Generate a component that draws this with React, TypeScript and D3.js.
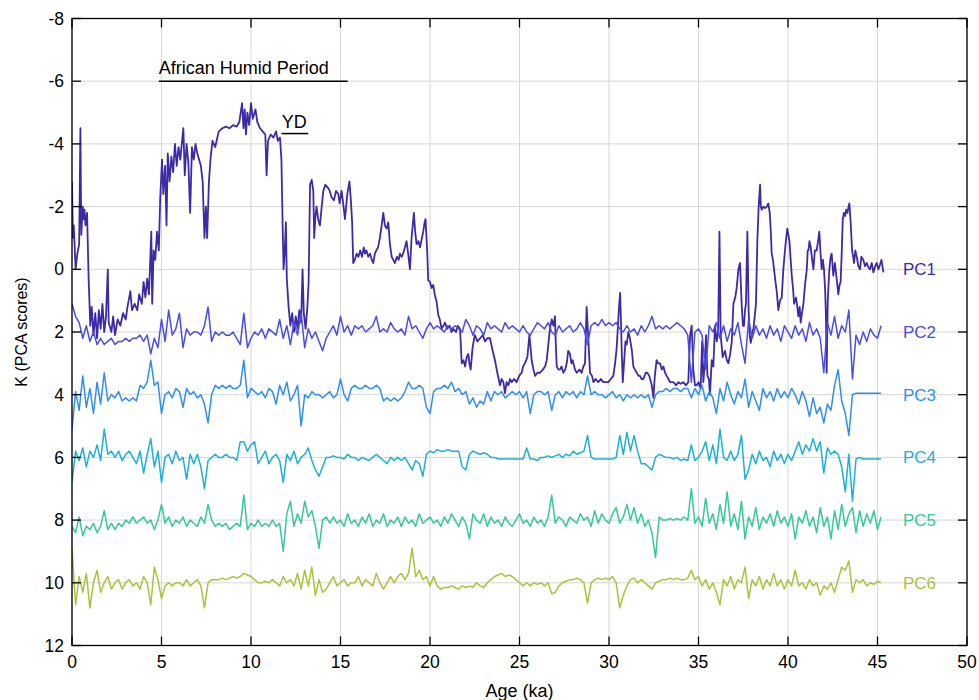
import React from 'react';
import * as d3 from 'd3';

// sampling interval (ka) of the regularly spaced PC2..PC6 records
const ageStep = 0.2;

// PC1 is read as [age, score] pairs because of its abrupt steps and spikes
const pc1: [number, number][] = [
  [0, -2.8], [0.05, -1.0], [0.1, -1.4], [0.2, 0.0], [0.3, -0.5], [0.4, -0.8], [0.47, -4.5], [0.52, -1.1], [0.6, -2.0], [0.65, -1.6], [0.7, -1.9], [0.75, -1.4], [0.84, -1.8], [0.93, 0.3], [1.02, 1.8], [1.1, 1.2], [1.2, 2.1], [1.3, 1.4], [1.4, 2.2], [1.5, 1.3], [1.6, 1.9], [1.7, 1.1], [1.8, 2.0], [1.9, 1.5], [2.0, 0.0], [2.05, 1.7],
  [2.2, 2.0], [2.3, 1.5], [2.4, 2.1], [2.55, 1.6], [2.7, 1.8], [2.85, 1.4], [3.0, 1.6], [3.1, 1.2], [3.26, 0.7], [3.35, 1.3], [3.5, 1.1], [3.65, 1.3], [3.75, 0.8], [3.9, 1.1], [4.0, 0.4], [4.1, 0.9], [4.2, 0.3], [4.3, 0.8], [4.43, -1.2], [4.48, 1.1], [4.56, -0.6], [4.65, -0.3], [4.75, -1.2], [4.85, -0.6], [4.93, -2.3],
  [5.03, -3.5], [5.1, -2.4], [5.2, -3.3], [5.28, -1.4], [5.35, -3.7], [5.45, -2.8], [5.55, -3.6], [5.65, -3.1], [5.75, -4.0], [5.85, -3.3], [5.95, -3.9], [6.05, -3.5], [6.15, -4.1], [6.22, -4.5], [6.3, -3.0], [6.4, -4.0], [6.5, -3.4], [6.6, -1.8], [6.7, -3.9], [6.8, -3.5], [6.9, -4.0], [7.0, -3.7], [7.1, -3.5], [7.2, -3.3], [7.3, -2.8],
  [7.4, -1.0], [7.48, -2.0], [7.55, -1.0], [7.65, -2.8], [7.75, -3.6], [7.85, -4.1], [8.0, -3.9], [8.2, -4.4], [8.4, -4.5], [8.6, -4.55], [8.8, -4.5], [9.0, -4.6], [9.2, -4.55], [9.35, -4.7], [9.5, -5.3], [9.58, -4.5], [9.65, -5.1], [9.72, -4.3], [9.8, -5.0], [9.9, -4.6], [10.0, -5.3], [10.1, -4.8], [10.25, -5.1], [10.35, -4.7], [10.5, -4.5],
  [10.65, -4.4], [10.8, -4.3], [10.87, -3.0], [10.95, -4.1], [11.1, -4.3], [11.25, -4.2], [11.4, -4.4], [11.5, -4.1], [11.62, -4.2], [11.7, -3.5], [11.77, -1.3], [11.82, 0.0], [11.88, -0.5], [11.95, -1.5], [12.0, 0.3], [12.1, 1.2], [12.2, 1.8], [12.3, 1.4], [12.4, 2.0], [12.5, 1.5], [12.6, 1.9], [12.7, 1.3], [12.8, 1.7], [12.88, 0.0], [12.95, 1.4],
  [13.05, 1.9], [13.15, 1.2], [13.22, 0.4], [13.3, -2.7], [13.39, -2.85], [13.48, -2.5], [13.53, -1.0], [13.6, -1.7], [13.66, -2.0], [13.75, -1.6], [13.85, -1.4], [13.95, -2.0], [14.04, -2.5], [14.15, -2.7], [14.3, -2.6], [14.4, -2.5], [14.5, -2.3], [14.63, -2.2], [14.75, -2.5], [14.88, -2.4], [14.95, -2.1], [15.06, -2.5], [15.15, -2.1], [15.25, -1.6], [15.38, -2.4],
  [15.5, -2.8], [15.58, -2.2], [15.65, -1.5], [15.71, -0.2], [15.8, -0.3], [15.9, -0.5], [16.0, -0.4], [16.1, -0.6], [16.2, -0.4], [16.3, -0.7], [16.37, -0.5], [16.45, -0.6], [16.55, -0.4], [16.65, -0.5], [16.75, -0.3], [16.83, -0.2], [16.92, -0.5], [17.0, -0.6], [17.1, -0.7], [17.2, -1.0], [17.3, -1.4], [17.39, -1.8], [17.48, -1.4], [17.58, -1.3], [17.67, -1.5],
  [17.76, -0.8], [17.86, -0.4], [17.95, -0.3], [18.04, -0.2], [18.15, -0.4], [18.25, -0.3], [18.32, -0.5], [18.42, -0.4], [18.5, -0.5], [18.6, -0.7], [18.69, -0.9], [18.78, -0.5], [18.88, 0.0], [18.97, -1.0], [19.1, -1.8], [19.17, -1.2], [19.25, -0.8], [19.35, -0.9], [19.44, -0.7], [19.55, -1.0], [19.62, -1.2], [19.7, -1.5], [19.75, -1.6], [19.85, -0.5], [19.9, 0.35],
  [20.0, 0.4], [20.09, 0.6], [20.18, 0.5], [20.28, 0.85], [20.36, 1.0], [20.46, 1.45], [20.55, 1.6], [20.65, 1.9], [20.75, 1.8], [20.84, 1.7], [20.95, 1.9], [21.1, 1.8], [21.2, 2.0], [21.3, 1.9], [21.45, 2.0], [21.55, 1.8], [21.68, 1.9], [21.77, 3.0], [21.87, 2.9], [21.96, 3.1], [22.05, 2.8], [22.14, 2.7], [22.2, 3.0], [22.27, 3.2], [22.38, 2.5],
  [22.5, 2.1], [22.65, 2.3], [22.8, 2.2], [22.95, 2.1], [23.07, 2.3], [23.2, 2.2], [23.35, 2.2], [23.5, 2.6], [23.63, 2.9], [23.76, 3.3], [23.91, 3.7], [24.0, 3.5], [24.1, 3.6], [24.19, 3.95], [24.28, 3.6], [24.38, 3.7], [24.47, 3.5], [24.56, 3.6], [24.7, 3.5], [24.84, 3.6], [24.98, 3.4], [25.12, 3.3], [25.2, 3.1], [25.3, 3.0], [25.44, 2.8],
  [25.55, 2.1], [25.62, 2.5], [25.68, 2.9], [25.78, 3.2], [25.87, 3.4], [26.0, 3.3], [26.15, 3.3], [26.3, 3.2], [26.43, 3.1], [26.52, 2.9], [26.61, 2.4], [26.7, 1.9], [26.8, 1.6], [26.9, 1.8], [26.98, 1.5], [27.03, 2.4], [27.08, 3.1], [27.18, 3.2], [27.26, 3.2], [27.35, 3.1], [27.45, 3.3], [27.55, 3.2], [27.64, 3.0], [27.72, 2.6], [27.82, 2.7],
  [27.9, 3.0], [27.97, 2.9], [28.1, 3.2], [28.2, 3.3], [28.35, 3.2], [28.47, 3.3], [28.57, 3.1], [28.66, 3.0], [28.75, 1.2], [28.85, 2.3], [28.94, 3.3], [29.05, 3.4], [29.13, 3.6], [29.25, 3.5], [29.4, 3.6], [29.55, 3.5], [29.68, 3.6], [29.8, 3.6], [29.96, 3.6], [30.1, 3.5], [30.24, 3.4], [30.34, 3.0], [30.43, 2.5], [30.55, 1.3], [30.62, 0.75],
  [30.67, 1.7], [30.71, 2.6], [30.77, 3.6], [30.85, 2.9], [30.92, 2.3], [30.99, 2.4], [31.08, 2.0], [31.17, 2.2], [31.28, 2.6], [31.36, 3.1], [31.45, 3.2], [31.55, 3.3], [31.65, 3.4], [31.73, 3.4], [31.82, 3.5], [31.92, 3.5], [32.05, 3.3], [32.14, 3.3], [32.25, 3.4], [32.39, 3.7], [32.48, 4.1], [32.56, 3.4], [32.66, 2.9], [32.75, 3.0], [32.85, 3.0],
  [32.95, 3.2], [33.04, 3.1], [33.13, 3.3], [33.22, 3.4], [33.32, 3.5], [33.41, 3.6], [33.5, 3.6], [33.6, 3.6], [33.75, 3.7], [33.88, 3.6], [34.0, 3.65], [34.15, 3.6], [34.3, 3.7], [34.43, 3.6], [34.53, 2.1], [34.62, 1.8], [34.71, 3.2], [34.8, 3.7], [34.9, 3.7], [35.0, 3.6], [35.12, 3.8], [35.2, 2.3], [35.27, 3.6], [35.35, 3.0], [35.42, 2.1],
  [35.5, 3.4], [35.58, 3.5], [35.64, 4.0], [35.74, 2.9], [35.83, 3.1], [35.92, 1.8], [36.02, 2.3], [36.1, 2.0], [36.17, -1.2], [36.24, 2.1], [36.35, 2.8], [36.48, 2.6], [36.58, 2.9], [36.67, 3.0], [36.77, 2.7], [36.86, 2.3], [36.95, 1.1], [37.05, 0.9], [37.13, 0.6], [37.23, 0.0], [37.32, -0.2], [37.41, 1.1], [37.48, 1.8], [37.54, 1.8], [37.6, 1.3],
  [37.65, 1.1], [37.73, -1.2], [37.8, 1.3], [37.86, 2.1], [37.92, 2.35], [38.0, 2.0], [38.07, 1.9], [38.14, 1.5], [38.21, 1.1], [38.29, -0.96], [38.36, -2.0], [38.44, -2.7], [38.48, -2.0], [38.53, -1.9], [38.62, -2.0], [38.72, -1.95], [38.82, -2.0], [38.9, -2.1], [38.98, -1.8], [39.04, -1.2], [39.09, -0.5], [39.16, -0.3], [39.22, 0.0], [39.3, 0.4], [39.37, 0.7],
  [39.46, 1.3], [39.55, 1.0], [39.65, 0.9], [39.74, 0.0], [39.83, -0.6], [39.9, -1.0], [39.96, -1.3], [40.02, -1.1], [40.08, -0.9], [40.15, -0.3], [40.21, 0.2], [40.28, 0.6], [40.34, 1.1], [40.45, 0.9], [40.52, 1.2], [40.58, 1.5], [40.65, 1.2], [40.71, 1.7], [40.78, 1.4], [40.86, 1.1], [40.95, 0.5], [41.05, 0.0], [41.1, -0.6], [41.14, -0.6], [41.2, -0.9],
  [41.27, -0.7], [41.35, -0.3], [41.42, 0.0], [41.5, -0.6], [41.6, -0.6], [41.68, -0.9], [41.75, -1.2], [41.82, -0.5], [41.88, 0.0], [41.95, -0.3], [42.01, 0.0], [42.07, 0.6], [42.12, 1.5], [42.16, 3.3], [42.22, 1.0], [42.31, 0.0], [42.38, -0.4], [42.44, -0.5], [42.53, 0.2], [42.62, -0.2], [42.72, 0.3], [42.81, 0.8], [42.88, 0.5], [42.94, 0.4], [43.0, -0.5],
  [43.06, -1.6], [43.12, -1.8], [43.19, -1.7], [43.25, -1.9], [43.32, -1.8], [43.38, -2.0], [43.43, -2.1], [43.5, -1.5], [43.58, -0.6], [43.64, -0.4], [43.69, -0.2], [43.76, -0.6], [43.84, -0.4], [43.93, -0.1], [44.02, 0.0], [44.1, -0.4], [44.21, -0.3], [44.3, -0.1], [44.4, -0.2], [44.5, -0.05], [44.58, 0.0], [44.68, -0.2], [44.77, 0.1], [44.87, -0.1], [44.96, -0.2],
  [45.05, 0.0], [45.14, -0.15], [45.22, -0.3], [45.33, 0.1],
];

// PC2..PC6: one value every ageStep ka from 0 ka (25 values per 5 ka row)
const pc2 = [
  1.1, 1.5, 1.7, 2.2, 1.8, 2.3, 2.0, 2.4, 2.2, 2.4, 2.3, 2.2, 2.4, 2.3, 2.3, 2.2, 2.3, 2.2, 2.2, 2.1, 2.3, 2.1, 2.7, 2.2, 2.5,
  1.6, 2.3, 1.3, 2.1, 1.9, 1.4, 2.5, 1.9, 2.1, 2.0, 2.0, 2.1, 1.8, 1.2, 2.3, 2.0, 2.1, 2.0, 2.1, 2.1, 2.0, 2.2, 2.4, 1.4, 2.5,
  2.2, 2.0, 2.1, 1.9, 2.2, 1.9, 2.0, 2.1, 1.6, 2.2, 1.8, 2.4, 1.7, 2.1, 1.4, 2.5, 1.9, 2.2, 2.0, 2.3, 2.6, 2.2, 2.0, 1.8, 2.1,
  1.5, 2.0, 1.8, 2.1, 1.8, 1.9, 1.8, 2.0, 1.9, 1.8, 1.5, 2.0, 1.9, 2.0, 1.7, 1.9, 2.0, 1.9, 2.1, 1.5, 1.9, 1.8, 2.0, 2.2, 1.9,
  1.7, 1.9, 1.8, 1.9, 2.0, 1.8, 1.9, 1.8, 1.9, 2.0, 1.6, 1.8, 2.1, 1.8, 1.9, 2.1, 1.7, 1.9, 1.8, 1.9, 2.0, 1.7, 1.9, 1.8, 1.9,
  2.0, 1.8, 2.0, 2.1, 1.9, 1.7, 1.8, 1.9, 1.7, 2.0, 2.1, 1.8, 2.0, 1.9, 1.8, 2.0, 1.9, 1.7, 1.9, 2.4, 1.8, 1.7, 1.8, 1.6, 1.8,
  1.7, 1.8, 1.7, 1.9, 2.0, 1.8, 2.0, 1.9, 2.1, 1.8, 2.0, 1.8, 1.5, 1.9, 1.8, 1.9, 1.8, 1.9, 1.8, 1.7, 1.8, 1.9, 2.1, 3.6, 2.0,
  1.9, 2.1, 3.2, 1.8, 2.0, 1.7, 2.2, 1.8, 2.3, 1.9, 2.1, 1.7, 2.4, 3.0, 1.6, 2.2, 1.8, 2.1, 1.9, 2.2, 1.8, 2.1, 1.9, 2.3, 1.8,
  2.0, 2.2, 1.8, 2.1, 1.9, 2.3, 1.7, 2.1, 1.9, 2.2, 3.3, 1.7, 2.1, 1.5, 2.2, 1.8, 2.0, 1.3, 3.5, 2.1, 2.4, 2.0, 2.3, 1.9, 2.1, 2.2, 1.8,
];

const pc3 = [
  5.1, 3.9, 4.5, 3.4, 4.4, 3.8, 4.6, 3.6, 4.3, 3.3, 4.2, 4.0, 4.1, 3.9, 4.2, 4.1, 4.2, 4.1, 4.2, 3.7, 3.8, 3.6, 2.9, 3.7, 3.6,
  4.6, 4.0, 3.9, 4.1, 3.8, 3.9, 4.4, 3.8, 4.0, 3.9, 4.1, 4.0, 4.3, 4.9, 4.0, 3.7, 3.8, 3.7, 3.8, 3.7, 3.8, 3.8, 3.7, 2.9, 4.1,
  3.8, 3.9, 4.0, 3.9, 4.1, 3.8, 3.9, 4.3, 3.7, 4.0, 3.6, 4.2, 4.0, 3.7, 5.0, 4.0, 4.1, 3.9, 4.0, 4.0, 4.1, 4.0, 3.9, 4.1, 4.0,
  3.5, 4.0, 4.2, 3.8, 3.7, 3.8, 3.8, 3.7, 3.8, 3.8, 3.7, 3.8, 4.2, 4.1, 4.2, 4.1, 4.2, 4.1, 3.9, 3.6, 3.8, 3.8, 3.7, 3.8, 4.4,
  4.6, 3.9, 3.8, 3.8, 3.7, 3.8, 3.6, 3.9, 3.8, 4.0, 3.9, 4.3, 4.1, 4.4, 4.2, 4.3, 3.9, 4.2, 3.9, 4.0, 3.9, 4.1, 4.0, 3.9, 4.0,
  3.9, 4.1, 3.9, 4.6, 4.0, 3.9, 3.9, 4.0, 3.9, 4.5, 4.0, 3.9, 4.1, 3.9, 4.0, 3.9, 4.1, 3.9, 4.0, 3.4, 4.0, 3.9, 4.0, 4.0, 4.1,
  4.0, 3.9, 4.1, 4.0, 4.2, 4.0, 4.1, 4.0, 4.1, 4.0, 4.1, 4.0, 4.4, 4.0, 3.9, 3.9, 3.8, 3.9, 3.8, 3.8, 3.9, 3.8, 3.8, 4.1, 3.8,
  4.0, 3.7, 4.2, 3.9, 4.1, 4.6, 3.8, 4.2, 3.6, 4.0, 4.3, 3.9, 4.1, 3.5, 4.4, 3.9, 4.2, 4.5, 3.8, 4.1, 3.9, 4.2, 3.8, 4.1, 3.9,
  4.1, 3.8, 4.0, 4.3, 3.9, 4.2, 4.7, 4.1, 4.6, 4.4, 4.9, 4.3, 4.5, 3.7, 3.2, 4.2, 4.6, 5.3, 4.0, 3.95, 3.95, 3.95, 3.95, 3.95, 3.95, 3.95, 3.95,
];

const pc4 = [
  6.8, 5.8, 6.1, 5.7, 6.3, 5.8, 6.0, 5.6, 6.1, 5.1, 5.9, 5.8, 6.0, 5.8, 6.1, 5.9, 5.8, 6.0, 6.2, 5.8, 6.5, 5.9, 5.4, 6.3, 5.8,
  6.8, 6.0, 5.9, 6.2, 5.8, 6.1, 6.0, 6.7, 5.9, 6.2, 5.9, 6.3, 7.0, 6.1, 6.0, 5.9, 6.0, 6.0, 5.9, 6.0, 6.0, 6.1, 5.5, 5.5, 5.8,
  5.6, 5.5, 6.2, 6.0, 5.8, 6.2, 6.0, 5.9, 6.1, 6.8, 5.9, 6.1, 5.8, 6.2, 6.0, 5.9, 5.7, 6.1, 6.4, 6.6, 6.3, 6.0, 6.0, 5.95, 6.0,
  6.0, 6.05, 5.9, 6.0, 6.0, 6.1, 6.0, 6.05, 6.1, 6.0, 5.9, 6.0, 6.1, 6.2, 6.0, 6.1, 6.0, 6.1, 6.0, 6.2, 6.4, 6.1, 6.2, 6.6, 5.9,
  5.8, 5.85, 5.75, 5.8, 5.8, 5.75, 5.8, 5.8, 5.8, 6.3, 6.4, 5.9, 5.8, 5.85, 5.9, 5.85, 5.9, 6.0, 6.0, 6.05, 6.05, 6.05, 6.05, 6.05, 6.05,
  6.05, 6.05, 5.7, 6.05, 6.05, 6.1, 6.0, 6.0, 5.95, 6.0, 5.95, 5.9, 6.0, 5.9, 5.95, 5.8, 5.9, 5.85, 5.8, 5.3, 6.0, 6.05, 6.05, 6.05, 6.05,
  6.05, 6.05, 6.0, 5.3, 5.9, 5.2, 5.8, 5.3, 5.8, 6.2, 6.2, 6.3, 6.4, 6.0, 5.9, 5.95, 6.0, 6.0, 6.05, 6.0, 6.1, 6.05, 6.1, 5.6, 6.1,
  6.0, 5.8, 5.5, 6.1, 5.6, 6.2, 5.1, 6.0, 6.1, 5.8, 6.1, 5.9, 5.3, 6.7, 6.4, 5.9, 6.2, 5.8, 6.1, 6.0, 6.3, 5.8, 6.1, 5.9, 6.2,
  5.9, 6.1, 5.8, 5.5, 5.9, 5.6, 5.8, 5.4, 5.8, 5.5, 6.5, 5.7, 5.9, 5.8, 5.9, 6.3, 7.1, 5.9, 7.4, 6.05, 6.0, 6.05, 6.05, 6.05, 6.05, 6.05, 6.05,
];

const pc5 = [
  8.2, 8.4, 7.9, 8.5, 8.2, 8.3, 8.1, 8.4, 8.2, 7.7, 8.3, 8.1, 8.3, 8.1, 8.2, 8.0, 8.1, 7.9, 8.1, 8.0, 7.9, 8.1, 8.0, 8.3, 8.0,
  7.5, 8.1, 7.9, 8.2, 8.0, 8.1, 7.9, 8.2, 8.0, 8.1, 8.2, 7.9, 8.1, 7.5, 8.0, 8.2, 8.1, 8.2, 8.1, 8.3, 8.2, 8.1, 8.2, 7.2, 8.3,
  8.1, 8.2, 8.0, 8.2, 8.1, 8.2, 8.0, 8.2, 8.1, 9.0, 7.8, 7.4, 8.2, 7.8, 8.1, 7.4, 7.9, 7.7, 8.2, 8.9, 8.0, 7.9, 8.1, 7.9, 8.1,
  8.0, 8.2, 7.8, 8.1, 8.0, 8.2, 7.9, 8.1, 7.8, 8.2, 8.0, 8.1, 7.8, 8.2, 8.0, 8.1, 7.9, 8.2, 7.9, 8.1, 8.0, 8.2, 7.8, 8.1, 8.0,
  7.9, 8.1, 8.0, 8.2, 7.9, 8.1, 7.8, 8.0, 8.2, 7.9, 8.1, 8.6, 7.8, 8.0, 8.1, 7.8, 8.2, 7.9, 8.1, 8.0, 8.2, 7.9, 8.1, 8.2, 8.0,
  7.8, 8.1, 8.0, 8.2, 7.9, 8.1, 8.0, 8.2, 7.9, 7.2, 8.1, 7.9, 8.0, 8.2, 7.9, 8.0, 8.1, 7.8, 8.0, 7.9, 8.2, 7.7, 8.1, 7.8, 8.0,
  8.1, 7.8, 7.6, 8.1, 7.9, 7.5, 8.0, 7.6, 8.1, 7.8, 8.2, 8.0, 8.4, 9.2, 7.9, 8.0, 8.0, 7.95, 8.0, 7.95, 8.0, 7.9, 8.0, 7.0, 8.1,
  7.9, 8.2, 7.3, 8.1, 7.8, 8.3, 7.5, 8.1, 7.1, 8.2, 7.8, 8.3, 7.4, 8.6, 7.9, 8.2, 7.6, 8.3, 7.9, 8.1, 7.8, 8.2, 7.7, 8.1, 7.9,
  8.2, 7.8, 8.6, 7.9, 8.1, 7.7, 8.2, 7.9, 8.4, 7.6, 8.2, 7.9, 8.6, 7.7, 8.3, 7.5, 8.2, 7.8, 7.6, 8.4, 7.7, 8.2, 7.8, 8.1, 7.7, 8.3, 7.9,
];

const pc6 = [
  8.9, 10.7, 9.8, 10.3, 9.7, 10.8, 10.0, 9.6, 10.3, 10.0, 9.8, 10.2, 10.0, 9.9, 10.2, 10.0, 9.9, 10.1, 10.0, 10.2, 9.8, 10.0, 10.7, 9.5, 9.9,
  10.5, 10.1, 10.0, 10.1, 10.0, 10.0, 10.1, 9.9, 10.1, 10.0, 9.9, 10.1, 10.8, 10.0, 9.9, 9.9, 9.9, 9.85, 9.9, 9.85, 9.8, 9.85, 9.8, 9.7, 9.75,
  9.8, 9.9, 10.0, 10.0, 9.95, 10.0, 9.9, 10.0, 10.1, 9.8, 10.0, 9.9, 10.1, 9.7, 10.2, 9.6, 10.1, 9.5, 10.4, 9.9, 10.3, 10.2, 10.0, 9.8, 10.1,
  10.0, 9.9, 10.1, 10.0, 10.0, 9.8, 10.1, 9.9, 10.0, 10.1, 9.7, 10.0, 10.2, 10.0, 9.8, 10.0, 9.8, 9.7, 9.9, 9.7, 8.9, 9.8, 9.6, 9.9, 9.8,
  10.1, 9.8, 10.1, 10.2, 10.15, 10.15, 10.1, 10.15, 10.2, 10.1, 10.15, 10.1, 10.15, 10.0, 10.1, 10.15, 10.0, 9.9, 9.8, 9.75, 9.7, 9.8, 9.75, 9.8, 9.9,
  10.0, 10.1, 10.0, 10.1, 10.0, 10.05, 10.0, 10.1, 10.0, 10.35, 10.3, 10.1, 10.0, 9.95, 9.9, 9.9, 9.85, 9.9, 10.0, 10.65, 10.0, 9.9, 9.85, 9.9, 9.85,
  9.9, 9.8, 10.0, 10.8, 10.4, 10.1, 9.9, 9.85, 10.0, 9.9, 10.0, 10.1, 10.2, 10.0, 9.95, 9.9, 9.9, 9.85, 9.9, 9.85, 9.9, 9.9, 9.85, 9.6, 9.9,
  9.8, 10.1, 9.9, 10.2, 10.0, 10.3, 10.7, 9.9, 10.1, 9.8, 10.2, 9.9, 10.0, 9.5, 10.5, 9.9, 10.1, 9.8, 10.2, 9.9, 10.1, 9.7, 10.1, 9.9, 10.2,
  9.9, 10.1, 9.6, 10.1, 10.0, 10.2, 9.9, 10.1, 10.0, 10.4, 10.1, 10.2, 10.0, 10.3, 9.9, 9.5, 9.6, 9.3, 10.3, 9.9, 10.0, 9.9, 10.1, 10.0, 10.05, 9.95, 10.0,
];

const seriesNames = ['PC1', 'PC2', 'PC3', 'PC4', 'PC5', 'PC6'];
const seriesColors = ['#3d2aa6', '#4a4ce6', '#2f8ff0', '#1cb0d4', '#37c897', '#a7c43a'];
const labelLevels = [0, 2, 4, 6, 8, 10];
const xTicks = [0, 5, 10, 15, 20, 25, 30, 35, 40, 45, 50];
const yTicks = [-8, -6, -4, -2, 0, 2, 4, 6, 8, 10, 12];

const font = '"Liberation Sans", Arial, Helvetica, sans-serif';

export default function App() {
  const width = 979, height = 700;
  const x = d3.scaleLinear().domain([0, 50]).range([72, 967]);
  const y = d3.scaleLinear().domain([-8, 12]).range([18.5, 645.5]);
  const [x0, x1] = x.range();
  const [y0, y1] = y.range();
  const tick = 9;

  const line = d3.line<[number, number]>().x(d => x(d[0])).y(d => y(d[1]));
  const regular = (vals: number[]): [number, number][] => vals.map((v, i) => [i * ageStep, v]);
  const series = [pc1, regular(pc2), regular(pc3), regular(pc4), regular(pc5), regular(pc6)];

  return (
    <svg width={width} height={height} style={{ position: 'absolute', left: 0, top: 0, background: '#fff' }}
      fontFamily={font}>
      <defs>
        <clipPath id="plotArea">
          <rect x={x0} y={y0} width={x1 - x0} height={y1 - y0} />
        </clipPath>
      </defs>
      <rect x={0} y={0} width={width} height={height} fill="#fff" />

      {/* grid */}
      <g stroke="#d6d6d6" strokeWidth={1}>
        {xTicks.map(t => <line key={'gx' + t} x1={x(t)} x2={x(t)} y1={y0} y2={y1} />)}
        {yTicks.map(t => <line key={'gy' + t} x1={x0} x2={x1} y1={y(t)} y2={y(t)} />)}
      </g>

      {/* data */}
      <g clipPath="url(#plotArea)" fill="none" strokeLinejoin="round">
        {series.map((s, i) => (
          <path key={seriesNames[i]} d={line(s) || ''} stroke={seriesColors[i]} strokeWidth={i === 0 ? 1.8 : 1.5} />
        ))}
      </g>

      {/* annotations */}
      <line x1={x(4.85)} x2={x(15.4)} y1={y(-6)} y2={y(-6)} stroke="#000" strokeWidth={1.5} />
      <text x={x(4.85)} y={y(-6) - 7} fontSize={18} fill="#000">African Humid Period</text>
      <line x1={x(11.7)} x2={x(13.2)} y1={y(-4.33)} y2={y(-4.33)} stroke="#000" strokeWidth={1.5} />
      <text x={x(11.72)} y={y(-4.33) - 6} fontSize={18} fill="#000">YD</text>

      {/* series labels */}
      {seriesNames.map((n, i) => (
        <text key={'lab' + n} x={903} y={y(labelLevels[i])} dy="0.35em" fontSize={17} fill={seriesColors[i]}>{n}</text>
      ))}

      {/* axes box and ticks */}
      <rect x={x0} y={y0} width={x1 - x0} height={y1 - y0} fill="none" stroke="#000" strokeWidth={1.3} />
      <g stroke="#000" strokeWidth={1.3}>
        {xTicks.map(t => (
          <g key={'tx' + t}>
            <line x1={x(t)} x2={x(t)} y1={y1} y2={y1 - tick} />
            <line x1={x(t)} x2={x(t)} y1={y0} y2={y0 + tick} />
          </g>
        ))}
        {yTicks.map(t => (
          <g key={'ty' + t}>
            <line x1={x0} x2={x0 + tick} y1={y(t)} y2={y(t)} />
            <line x1={x1} x2={x1 - tick} y1={y(t)} y2={y(t)} />
          </g>
        ))}
      </g>
      <g fontSize={17.5} fill="#000">
        {xTicks.map(t => (
          <text key={'lx' + t} x={x(t)} y={y1 + 22} textAnchor="middle">{t}</text>
        ))}
        {yTicks.map(t => (
          <text key={'ly' + t} x={x0 - 8} y={y(t)} dy="0.35em" textAnchor="end">{t < 0 ? '-' + Math.abs(t) : t}</text>
        ))}
      </g>
      <text x={(x0 + x1) / 2} y={697} textAnchor="middle" fontSize={18} fill="#000">Age (ka)</text>
      <text transform={`translate(27,${(y0 + y1) / 2}) rotate(-90)`} textAnchor="middle" fontSize={16} fill="#000">K (PCA scores)</text>
    </svg>
  );
}
